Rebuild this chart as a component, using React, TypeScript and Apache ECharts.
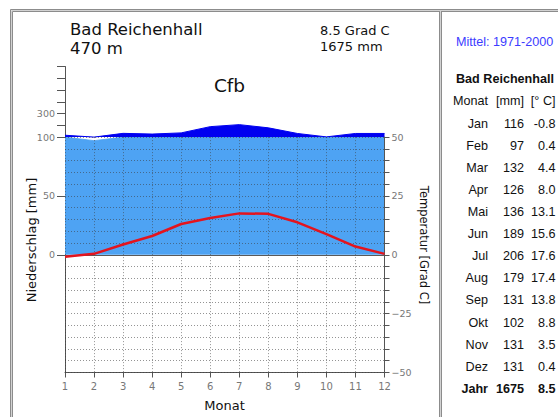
import React, { useEffect, useRef } from 'react';
import * as echarts from 'echarts';

// ---- data ----
const monthTicks = ['1', '2', '3', '4', '5', '6', '7', '8', '9', '10', '11', '12'];
const monthNames = ['Jan', 'Feb', 'Mar', 'Apr', 'Mai', 'Jun', 'Jul', 'Aug', 'Sep', 'Okt', 'Nov', 'Dez'];
const precipMm = [116, 97, 132, 126, 136, 189, 206, 179, 131, 102, 131, 131];
const tempC = [-0.8, 0.4, 4.4, 8.0, 13.1, 15.6, 17.6, 17.4, 13.8, 8.8, 3.5, 0.4];
const annualPrecip = 1675;
const annualTemp = 8.5;
const stationName = 'Bad Reichenhall';
const elevationText = '470 m';
const climateClass = 'Cfb';
const periodText = 'Mittel: 1971-2000';
const leftTickMm = [0, 50, 100, 200, 300, 400, 500, 600, 700];
const leftLabelMm = [0, 50, 100, 300];
const tempLabelC = [-50, -25, 0, 25, 50];

// precipitation scale: linear up to 100 mm, compressed 1:10 above
const toDisplay = (mm: number) => (mm <= 100 ? mm : 100 + (mm - 100) / 10);
const fromDisplay = (v: number) => (v <= 100 ? v : 100 + (v - 100) * 10);
const fmtTemp = (t: number) => (t < 0 ? '-' : '') + Math.abs(t).toFixed(1);

const LEFT_FONT = '"DejaVu Sans", sans-serif';
const RIGHT_FONT = '"Liberation Sans", Arial, sans-serif';

export default function App() {
  const ref = useRef<HTMLDivElement>(null);
  useEffect(() => {
    if (!ref.current) return;
    const chart = echarts.init(ref.current, undefined, { renderer: 'svg' });

    const gridTop = 66.5;
    const gridBottom = 44.5;
    const unitPx = (417 - gridTop - gridBottom) / 260;
    const grid1Top = gridTop + 60 * unitPx;

    const dotted = { type: [1, 2] as any, color: 'rgba(60,60,60,0.55)', width: 1 };

    const graphic: any[] = [];
    // frame
    const fr = (x: number, y: number, c: string) => ({
      type: 'rect', silent: true, z: 0,
      shape: { x, y, width: 800, height: 800 },
      style: { fill: 'none', stroke: c, lineWidth: 1 },
    });
    graphic.push(fr(10.5, 9.5, '#8c8c8c'), fr(11.5, 10.5, '#d2d2d2'), fr(12.5, 11.5, '#8c8c8c'));
    const sep = (x: number, c: string) => ({
      type: 'line', silent: true, z: 0,
      shape: { x1: x, y1: 11, x2: x, y2: 420 },
      style: { stroke: c, lineWidth: 1 },
    });
    graphic.push(sep(439.5, '#8c8c8c'), sep(440.5, '#d2d2d2'), sep(441.5, '#8c8c8c'));

    const txt = (text: string, x: number, y: number, o: any = {}) => ({
      type: 'text', silent: true, z: 10, x, y, rotation: o.rotation || 0,
      style: {
        text, x: 0, y: 0,
        fill: o.fill || '#111',
        fontSize: o.fontSize || 13,
        fontFamily: o.fontFamily || LEFT_FONT,
        fontWeight: o.fontWeight || 'normal',
        align: o.align || 'left',
        verticalAlign: 'middle',
      },
    });

    // left panel texts
    graphic.push(txt(stationName, 70, 29.5, { fontSize: 16.5 }));
    graphic.push(txt(elevationText, 70, 48.5, { fontSize: 16.5 }));
    graphic.push(txt(`${annualTemp.toFixed(1)} Grad C`, 320, 30.5, { fontSize: 13 }));
    graphic.push(txt(`${annualPrecip} mm`, 320, 46, { fontSize: 13 }));
    graphic.push(txt(climateClass, 229.5, 85, { fontSize: 18.5, align: 'center' }));
    graphic.push(txt('Niederschlag [mm]', 31, 240, { fontSize: 13, align: 'center', rotation: Math.PI / 2 }));
    graphic.push(txt('Temperatur [Grad C]', 423.5, 245, { fontSize: 11.5, align: 'center', rotation: -Math.PI / 2 }));
    graphic.push(txt('Monat', 224.5, 405.5, { fontSize: 13, align: 'center' }));

    // right panel table
    graphic.push(txt(periodText, 456, 42, { fontFamily: RIGHT_FONT, fontSize: 12.6, fill: '#3c3cff' }));
    graphic.push(txt(stationName, 456, 78.5, { fontFamily: RIGHT_FONT, fontSize: 12.6, fontWeight: 'bold', fill: '#111' }));
    const colX = [488, 524, 555.5];
    const rowY = (i: number) => 123.8 + i * 22.08;
    const tOpt = { fontFamily: RIGHT_FONT, fontSize: 12.6, align: 'right', fill: '#111' };
    graphic.push(txt('Monat', colX[0], 101, tOpt));
    graphic.push(txt('[mm]', colX[1], 101, tOpt));
    graphic.push(txt('[° C]', colX[2], 101, tOpt));
    monthNames.forEach((m, i) => {
      graphic.push(txt(m, colX[0], rowY(i), tOpt));
      graphic.push(txt(String(precipMm[i]), colX[1], rowY(i), tOpt));
      graphic.push(txt(fmtTemp(tempC[i]), colX[2], rowY(i), tOpt));
    });
    const bOpt = { ...tOpt, fontWeight: 'bold' };
    graphic.push(txt('Jahr', colX[0], rowY(12), bOpt));
    graphic.push(txt(String(annualPrecip), colX[1], rowY(12), bOpt));
    graphic.push(txt(annualTemp.toFixed(1), colX[2], rowY(12), bOpt));

    const axisGray = '#555';
    const labelGray = '#777';

    const option: any = {
      animation: false,
      backgroundColor: '#fff',
      grid: [
        { left: 65, right: 173.5, top: gridTop, bottom: gridBottom, containLabel: false },
        { left: 65, right: 173.5, top: grid1Top, bottom: gridBottom, containLabel: false },
      ],
      xAxis: [
        {
          gridIndex: 0, type: 'category', data: monthTicks, boundaryGap: false, position: 'bottom',
          axisLine: { show: true, onZero: false, lineStyle: { color: axisGray } },
          axisTick: { show: true, length: 5, inside: false, alignWithLabel: true, lineStyle: { color: axisGray } },
          axisLabel: { color: labelGray, fontSize: 10, fontFamily: LEFT_FONT, margin: 9, interval: 0 },
          splitLine: { show: false },
        },
        {
          gridIndex: 1, type: 'category', data: monthTicks, boundaryGap: false, z: 3,
          axisLine: { show: false }, axisTick: { show: false }, axisLabel: { show: false },
          splitLine: { show: true, interval: 0, lineStyle: dotted },
        },
      ],
      yAxis: [
        {
          gridIndex: 0, type: 'value', min: toDisplay(-100), max: toDisplay(700), position: 'left',
          axisLine: { show: true, onZero: false, lineStyle: { color: axisGray } },
          axisTick: { show: true, length: 8, customValues: leftTickMm.map(toDisplay), lineStyle: { color: axisGray } },
          axisLabel: {
            show: true, customValues: leftLabelMm.map(toDisplay), color: labelGray, fontSize: 9.5,
            fontFamily: LEFT_FONT, margin: 10,
            formatter: (v: number) => String(Math.round(fromDisplay(v))),
          },
          splitLine: { show: false },
        },
        {
          gridIndex: 1, type: 'value', min: -50, max: 50, interval: 5, position: 'right', z: 3,
          axisLine: { show: true, onZero: false, lineStyle: { color: axisGray } },
          axisTick: { show: true, length: 5, lineStyle: { color: axisGray } },
          axisLabel: {
            show: true, customValues: tempLabelC, color: labelGray, fontSize: 9.5, fontFamily: LEFT_FONT, margin: 7,
            formatter: (v: number) => (v < 0 ? '\u2212' + Math.abs(v) : String(v)),
          },
          splitLine: { show: true, lineStyle: dotted },
        },
      ],
      series: [
        {
          name: 'Niederschlag bis 100 mm', type: 'line', xAxisIndex: 0, yAxisIndex: 0,
          data: precipMm.map((p) => Math.min(toDisplay(p), 100)),
          symbol: 'none', z: 1,
          lineStyle: { color: '#4aa0f0', width: 0.8 },
          areaStyle: { color: '#4ea3f3', opacity: 1 },
        },
        {
          name: 'base', type: 'line', xAxisIndex: 0, yAxisIndex: 0, stack: 'wet',
          data: precipMm.map(() => 100),
          symbol: 'none', z: 1, lineStyle: { opacity: 0, width: 0 },
        },
        {
          name: 'Niederschlag über 100 mm', type: 'line', xAxisIndex: 0, yAxisIndex: 0, stack: 'wet',
          data: precipMm.map((p) => Math.max(toDisplay(p) - 100, 0)),
          symbol: 'none', z: 2,
          lineStyle: { color: '#0000f0', width: 1 },
          areaStyle: { color: '#0000f0', opacity: 1 },
        },
        {
          name: 'Temperatur', type: 'line', xAxisIndex: 1, yAxisIndex: 1,
          data: tempC,
          symbol: 'none', z: 6,
          lineStyle: { color: '#e4141e', width: 2.5 },
          markLine: {
            silent: true, symbol: 'none', label: { show: false },
            lineStyle: { color: '#5a5a5a', type: 'solid', width: 1 },
            data: [{ yAxis: 0 }],
          },
        },
      ],
      graphic,
    };
    chart.setOption(option);
    return () => chart.dispose();
  }, []);
  return (
    <div
      ref={ref}
      style={{ position: 'absolute', left: 0, top: 0, width: 558, height: 417 }}
    />
  );
}
